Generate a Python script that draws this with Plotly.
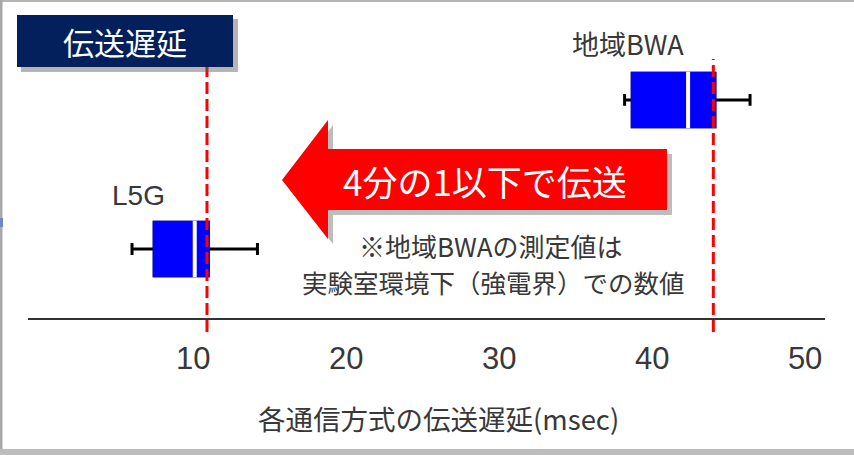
import plotly.graph_objects as go

# ---------------- data ----------------
categories = ["L5G", "地域BWA"]
positions = [0, 1]
lower_whisker = [6.0, 38.2]
q1 = [7.45, 38.7]
median = [10.1, 42.35]
q3 = [11.0, 44.1]
upper_whisker = [14.2, 46.4]
ref_lines = [10.9, 44.0]
tick_values = [10, 20, 30, 40, 50]
tick_labels = ["10", "20", "30", "40", "50"]

title_text = "伝送遅延"
arrow_text = "4分の1以下で伝送"
note_lines = ["※地域BWAの測定値は", "実験室環境下（強電界）での数値"]
axis_title = "各通信方式の伝送遅延(msec)"

# ---------------- layout helpers ----------------
W, H = 854, 455
L, R, T, B = 28, 825, 25, 318
BOXW = 0.36
JP = "Noto Sans CJK JP, Noto Sans, sans-serif"
NARROW = "Liberation Sans Narrow, Arial Narrow, Liberation Sans, sans-serif"
TXT = "#383838"


def px(x):
    return (x - L) / (R - L)


def py(y):
    return (B - y) / (B - T)


def rect(x0, y0, x1, y1, **kw):
    return dict(type="rect", xref="paper", yref="paper",
                x0=px(x0), x1=px(x1), y0=py(y1), y1=py(y0), **kw)


def path(points, **kw):
    d = "M " + " L ".join(f"{px(a):.5f},{py(b):.5f}" for a, b in points) + " Z"
    return dict(type="path", xref="paper", yref="paper", path=d, **kw)


fig = go.Figure()

# box with whiskers (black)
fig.add_trace(go.Box(
    y=positions, q1=q1, median=median, q3=q3,
    lowerfence=lower_whisker, upperfence=upper_whisker,
    orientation="h", width=BOXW, whiskerwidth=0.22,
    line=dict(color="black", width=3), fillcolor="#0000FF",
    hoverinfo="skip", showlegend=False,
))
# solid blue box on top (hides black outline)
fig.add_trace(go.Box(
    y=positions, q1=q1, median=median, q3=q3,
    lowerfence=q1, upperfence=q3,
    orientation="h", width=BOXW, whiskerwidth=0,
    line=dict(color="#0000FF", width=3), fillcolor="#0000FF",
    hoverinfo="skip", showlegend=False,
))
# white median line
mx, my = [], []
for p, m in zip(positions, median):
    mx += [m, m, None]
    my += [p - BOXW / 2 - 0.01, p + BOXW / 2 + 0.01, None]
fig.add_trace(go.Scatter(x=mx, y=my, mode="lines",
                         line=dict(color="white", width=4),
                         hoverinfo="skip", showlegend=False))

shapes = []
# outer frame
shapes.append(rect(0, 0, W, 2, fillcolor="#b4b4b4", line_width=0, layer="below"))
shapes.append(rect(0, 0, 2.5, 449, fillcolor="#a8a8a8", line_width=0, layer="below"))
shapes.append(rect(0, 449, W, H, fillcolor="#bdbdbd", line_width=0, layer="below"))
shapes.append(rect(0, 218, 3, 227, fillcolor="#6f86c0", line_width=0, layer="below"))

# red dashed reference lines
for v in ref_lines:
    shapes.append(dict(type="line", xref="x", yref="paper", x0=v, x1=v,
                       y0=py(332), y1=py(59),
                       line=dict(color="#FF0000", width=3, dash="12px,5px")))

# title box with shadow
shapes.append(rect(21, 19, 238, 72, fillcolor="rgba(90,90,90,0.45)", line_width=0))
shapes.append(rect(17, 15, 233, 67, fillcolor="#03205C", line_width=0))

# arrow with shadow
arrow_pts = [(282, 180), (328, 120), (328, 149), (667, 149), (667, 210),
             (328, 210), (328, 239)]
shadow_pts = [(a + 5, b + 5) for a, b in arrow_pts]
shapes.append(path(shadow_pts, fillcolor="rgba(90,90,90,0.4)", line_width=0))
shapes.append(path(arrow_pts, fillcolor="#FF0000", line_width=0))

annotations = [
    dict(x=px(125), y=py(41), text=title_text,
         font=dict(family=JP, size=31, color="white")),
    dict(x=px(485), y=py(181), text=arrow_text,
         font=dict(family=JP, size=35, color="white")),
    dict(x=px(491), y=py(245), text=note_lines[0],
         font=dict(family=JP, size=26, color=TXT)),
    dict(x=px(493), y=py(281), text=note_lines[1],
         font=dict(family=JP, size=25.5, color=TXT)),
    dict(x=px(628), y=py(44), text=categories[1],
         font=dict(family=JP, size=27, color=TXT)),
    dict(x=px(138), y=py(195), text=categories[0],
         font=dict(family=NARROW, size=28, color=TXT)),
    dict(x=px(438), y=py(418), text=axis_title,
         font=dict(family=JP, size=27.5, color=TXT)),
]
for a in annotations:
    a.update(xref="paper", yref="paper", showarrow=False,
             xanchor="center", yanchor="middle")

fig.update_layout(
    width=W, height=H,
    margin=dict(l=L, r=W - R, t=T, b=H - B),
    paper_bgcolor="white", plot_bgcolor="white",
    boxmode="overlay",
    showlegend=False,
    shapes=shapes,
    annotations=annotations,
    xaxis=dict(range=[-0.8, 51.3], tickvals=tick_values, ticktext=tick_labels,
               showgrid=False, zeroline=False, showline=True,
               linecolor="#333333", linewidth=1.5, ticks="",
               ticklabelstandoff=12,
               tickfont=dict(family=NARROW, size=31, color=TXT)),
    yaxis=dict(range=[-0.463, 1.503], visible=False, fixedrange=True),
)

fig.write_html("out.html")
